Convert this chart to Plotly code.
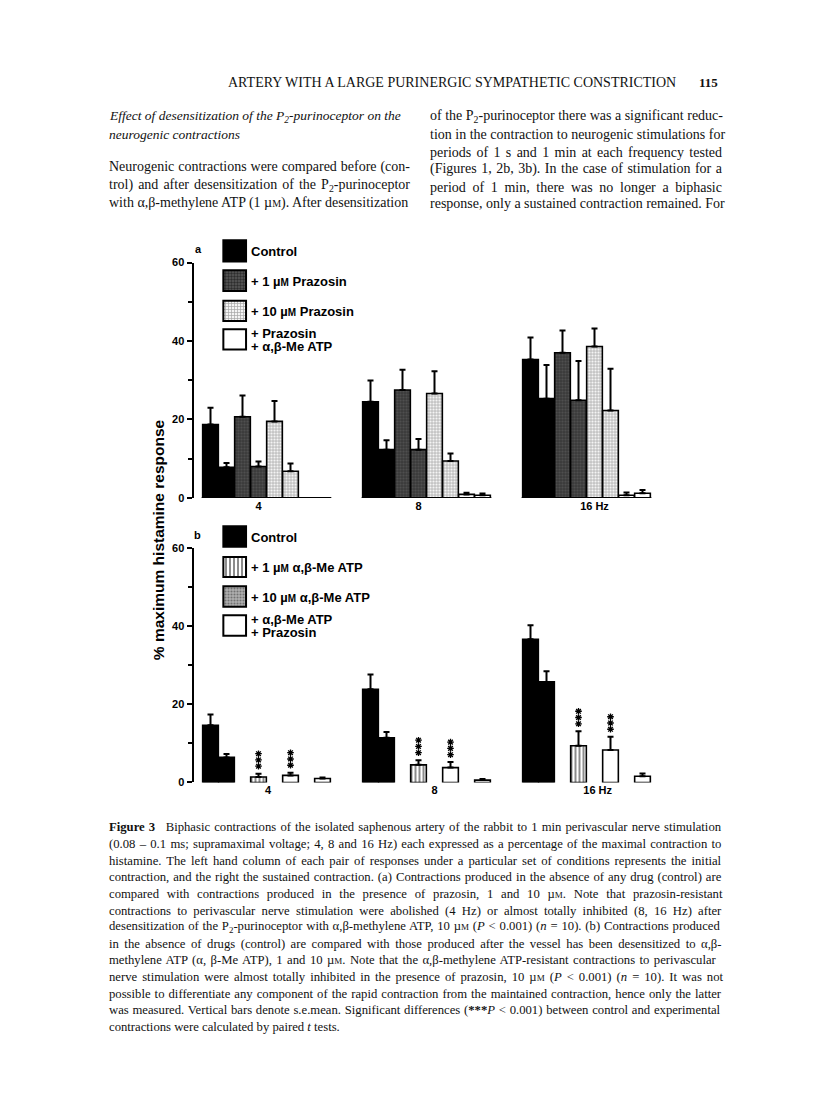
import re
import html
import plotly.graph_objects as go

# page (browser window) size and the default 8px body margin of the html page
PAGE_W, PAGE_H = 816, 1107
MARG = 8
W, H = PAGE_W - 2 * MARG, PAGE_H - 2 * MARG

# ---------------- DATA ----------------
freqs = ["4", "8", "16 Hz"]

# Panel a: % maximum histamine response (mean, s.e.mean); initial / sustained
a_control_init = [18.7, 24.5, 35.3]
a_control_init_sem = [4.3, 5.4, 5.6]
a_control_sust = [7.8, 12.3, 25.3]
a_control_sust_sem = [1.1, 2.4, 8.6]
a_pz1_init = [20.7, 27.5, 37.0]
a_pz1_init_sem = [5.4, 5.2, 5.7]
a_pz1_sust = [8.0, 12.3, 24.9]
a_pz1_sust_sem = [1.3, 2.7, 10.0]
a_pz10_init = [19.5, 26.6, 38.6]
a_pz10_init_sem = [5.2, 5.7, 4.6]
a_pz10_sust = [6.8, 9.4, 22.3]
a_pz10_sust_sem = [2.0, 1.9, 10.6]
a_pzatp_init = [0.0, 0.9, 0.7]
a_pzatp_init_sem = [0.0, 0.4, 0.7]
a_pzatp_sust = [0.0, 0.7, 1.2]
a_pzatp_sust_sem = [0.0, 0.4, 0.8]

# Panel b
b_control_init = [14.6, 23.8, 36.6]
b_control_init_sem = [2.8, 3.8, 3.6]
b_control_sust = [6.4, 11.4, 25.7]
b_control_sust_sem = [0.9, 1.5, 2.7]
b_atp1 = [1.4, 4.5, 9.4]
b_atp1_sem = [0.85, 1.2, 3.7]
b_atp10 = [1.8, 3.8, 8.3]
b_atp10_sem = [0.7, 1.4, 3.4]
b_atppz = [1.0, 0.6, 1.6]
b_atppz_sem = [0.25, 0.3, 0.7]

y_ticks = [0, 20, 40, 60]
y_minor = [10, 30, 50]

legend_a = ["Control", "+ 1 µM Prazosin", "+ 10 µM Prazosin", ["+ Prazosin", "+ α,β-Me ATP"]]
legend_b = ["Control", "+ 1 µM α,β-Me ATP", "+ 10 µM α,β-Me ATP", ["+ α,β-Me ATP", "+ Prazosin"]]
y_title = "% maximum histamine response"

# ---------------- STYLES ----------------
SANS = "Liberation Sans"
SERIF = "Liberation Serif"
INK = "#111111"
LINE = dict(color="black", width=1.6)

def st_solid(c):
    return dict(color=c, line=LINE)

STY = {
    "control": st_solid("#000000"),
    "pz1": dict(color="#444444", line=LINE,
                pattern=dict(shape=".", fgcolor="#000000", bgcolor="#5a5a5a", size=3, solidity=0.5)),
    "pz10": dict(color="#ffffff", line=LINE,
                 pattern=dict(shape="+", fgcolor="#555555", bgcolor="#f4f4f4", size=3, solidity=0.4)),
    "white": st_solid("#ffffff"),
    "atp1": dict(color="#ffffff", line=LINE,
                 pattern=dict(shape="|", fgcolor="#000000", bgcolor="#ffffff", size=4, solidity=0.45)),
    "atp10": dict(color="#9a9a9a", line=LINE,
                  pattern=dict(shape=".", fgcolor="#333333", bgcolor="#b0b0b0", size=3, solidity=0.4)),
}

GROUP_STRIDE = 10   # slots between groups
SLOT_PX = 16.0
X0_PX = 210.5       # page pixel of slot 0 centre
AX_LEFT, AX_RIGHT = 193.5, 672.0

def px2x(p):
    return (p - X0_PX) / SLOT_PX

def fx(px):  # page px -> paper fraction
    return (px - MARG) / W

def fy(py):
    return 1 - (py - MARG) / H

def yd(top_px, bot_px):
    return [fy(bot_px), fy(top_px)]

fig = go.Figure()

def add_bars(vals, sems, slot, style, xa, ya):
    xs = [g * GROUP_STRIDE + slot for g in range(len(vals))]
    fig.add_trace(go.Bar(
        x=xs, y=vals, width=0.98, marker=style,
        error_y=dict(type="data", symmetric=False, array=sems, arrayminus=[0] * len(vals),
                     color="black", thickness=2, width=3),
        xaxis=xa, yaxis=ya, showlegend=False, hoverinfo="skip"))

# panel a
series_a = [
    (a_control_init, a_control_init_sem, 0, "control"),
    (a_control_sust, a_control_sust_sem, 1, "control"),
    (a_pz1_init, a_pz1_init_sem, 2, "pz1"),
    (a_pz1_sust, a_pz1_sust_sem, 3, "pz1"),
    (a_pz10_init, a_pz10_init_sem, 4, "pz10"),
    (a_pz10_sust, a_pz10_sust_sem, 5, "pz10"),
    (a_pzatp_init, a_pzatp_init_sem, 6, "white"),
    (a_pzatp_sust, a_pzatp_sust_sem, 7, "white"),
]
for v, s, slot, k in series_a:
    add_bars(v, s, slot, STY[k], "x", "y")

# panel b
series_b = [
    (b_control_init, b_control_init_sem, 0, "control"),
    (b_control_sust, b_control_sust_sem, 1, "control"),
    (b_atp1, b_atp1_sem, 3, "atp1"),
    (b_atp10, b_atp10_sem, 5, "white"),
    (b_atppz, b_atppz_sem, 7, "white"),
]
for v, s, slot, k in series_b:
    add_bars(v, s, slot, STY[k], "x2", "y2")

# significance stars (***) stacked above the alpha,beta-Me ATP bars in panel b
star_offsets = [1.9, 3.5, 5.1]
for v, s, slot in [(b_atp1, b_atp1_sem, 3), (b_atp10, b_atp10_sem, 5)]:
    xs, ys = [], []
    for g in range(len(v)):
        for off in star_offsets:
            xs.append(g * GROUP_STRIDE + slot)
            ys.append(v[g] + s[g] + off)
    fig.add_trace(go.Scatter(x=xs, y=ys, mode="markers",
                             marker=dict(symbol="asterisk-open", size=5.5, color="black",
                                         line=dict(color="black", width=1.3)),
                             xaxis="x2", yaxis="y2", showlegend=False, hoverinfo="skip"))

# ---------- legend swatches (drawn as bars on a full-page pixel axis) ----------
LEG_X = 234.7
LEG_W = 22.7
leg_a_boxes = [(236.7, 258.3), (267.0, 288.0), (298.0, 318.5), (326.7, 347.3)]
leg_b_boxes = [(526.0, 546.7), (557.0, 577.3), (586.7, 607.3), (616.0, 636.7)]
leg_a_styles = ["control", "pz1", "pz10", "white"]
leg_b_styles = ["control", "atp1", "atp10", "white"]
for boxes, styles in [(leg_a_boxes, leg_a_styles), (leg_b_boxes, leg_b_styles)]:
    for (t, b), k in zip(boxes, styles):
        stl = dict(STY[k])
        stl["line"] = dict(color="black", width=2)
        fig.add_trace(go.Bar(x=[LEG_X], y=[t - b], base=[b], width=LEG_W, marker=stl,
                             xaxis="x3", yaxis="y3", showlegend=False, hoverinfo="skip"))

ann = []

def text(x, y, s, size=13, family=SANS, anchor="left", color="black", bold=False, angle=0):
    ann.append(dict(x=fx(x), y=fy(y), xref="paper", yref="paper", text=s, showarrow=False,
                    xanchor=anchor, yanchor="middle", textangle=angle,
                    font=dict(family=family, size=size, color=color,
                              weight="bold" if bold else "normal")))

def um(s, sz=10):
    return s.replace("µM", "µ<span style='font-size:%dpx'>M</span>" % sz)

LEG_TX = 248.5
for boxes, labels in [(leg_a_boxes, legend_a), (leg_b_boxes, legend_b)]:
    for (t, b), lab in zip(boxes, labels):
        if isinstance(lab, list):
            text(LEG_TX, t + 4, um(lab[0]), size=13, bold=True)
            text(LEG_TX, t + 17.5, um(lab[1]), size=13, bold=True)
        else:
            text(LEG_TX, (t + b) / 2 + 0.5, um(lab), size=13, bold=True)

# panel letters
text(198, 246, "a", size=11, bold=True, anchor="center")
text(197, 535, "b", size=11, bold=True, anchor="center")

# y title
text(158, 540, y_title, size=15.5, bold=True, angle=-90, anchor="center")

# baselines for panel a groups
shapes = []
for g in range(len(freqs)):
    x0 = g * GROUP_STRIDE - 0.55
    x1 = g * GROUP_STRIDE + 7.55
    shapes.append(dict(type="line", xref="x", yref="y", x0=x0, x1=x1, y0=0, y1=0,
                       line=dict(color="black", width=1.6), layer="below"))

TICKFONT = dict(family=SANS, size=11, color="black", weight="bold")

def yaxis(dom, anchor):
    return dict(domain=dom, range=[0, 60], anchor=anchor, showline=True, linecolor="black", linewidth=2,
                ticks="outside", ticklen=5, tickwidth=1.5, tickcolor="black",
                tickvals=y_ticks, ticktext=[str(t) for t in y_ticks],
                tickfont=TICKFONT,
                minor=dict(tickvals=y_minor, ticks="outside", ticklen=4, tickwidth=1.5, tickcolor="black"),
                showgrid=False, zeroline=False, fixedrange=True)

def xaxis(anchor, tickpos):
    return dict(domain=[fx(AX_LEFT), fx(AX_RIGHT)], range=[px2x(AX_LEFT), px2x(AX_RIGHT)],
                anchor=anchor, showline=False, showgrid=False, zeroline=False, ticks="",
                tickvals=tickpos, ticktext=freqs,
                tickfont=TICKFONT, fixedrange=True)

# tick label positions for frequency groups (in slot units)
tickpos_a = [3.0, 13.0, 24.0]
tickpos_b = [3.6, 14.0, 24.2]

fig.update_layout(
    width=W, height=H, margin=dict(l=0, r=0, t=0, b=0),
    paper_bgcolor="white", plot_bgcolor="rgba(0,0,0,0)",
    barmode="overlay", showlegend=False,
    xaxis=xaxis("y", tickpos_a),
    yaxis=yaxis(yd(259.3, 497.3), "x"),
    xaxis2=xaxis("y2", tickpos_b),
    yaxis2=yaxis(yd(547.7, 785.0), "x2"),
    xaxis3=dict(domain=[0, 1], range=[MARG, MARG + W], visible=False, anchor="y3", fixedrange=True),
    yaxis3=dict(domain=[0, 1], range=[MARG + H, MARG], visible=False, anchor="x3", fixedrange=True),
    shapes=shapes,
)

# ---------------- justified serif text (Times metrics, 1/1000 em) ----------------
TW = {' ': 250, '!': 333, '%': 833, '(': 333, ')': 333, '*': 500, '+': 564, ',': 250, '-': 333,
      '.': 250, '/': 278, ':': 278, ';': 278, '<': 564, '=': 564, '>': 564, '?': 444,
      'A': 722, 'B': 667, 'C': 667, 'D': 722, 'E': 611, 'F': 556, 'G': 722, 'H': 722, 'I': 333,
      'J': 389, 'K': 722, 'L': 611, 'M': 889, 'N': 722, 'O': 722, 'P': 556, 'Q': 722, 'R': 667,
      'S': 556, 'T': 611, 'U': 722, 'V': 722, 'W': 944, 'X': 722, 'Y': 722, 'Z': 611,
      'a': 444, 'b': 500, 'c': 444, 'd': 500, 'e': 444, 'f': 333, 'g': 500, 'h': 500, 'i': 278,
      'j': 278, 'k': 500, 'l': 278, 'm': 778, 'n': 500, 'o': 500, 'p': 500, 'q': 500, 'r': 333,
      's': 389, 't': 278, 'u': 500, 'v': 500, 'w': 722, 'x': 500, 'y': 500, 'z': 444,
      '–': 500, 'α': 520, 'β': 500, 'µ': 500, '\u2002': 500}
TB = {'F': 611, 'u': 556, 'r': 444, 'P': 611}

def est_width(markup, size):
    total, scale, bold = 0.0, [1.0], False
    for tok in re.split(r"(<[^>]+>)", markup):
        if tok.startswith("<"):
            t = tok.lower()
            if t.startswith("<sub"):
                scale.append(0.7)
            elif t.startswith("<span"):
                m = re.search(r"font-size:\s*([\d.]+)px", t)
                scale.append(float(m.group(1)) / size if m else scale[-1])
            elif t.startswith("</sub") or t.startswith("</span"):
                scale.pop()
            elif t == "<b>":
                bold = True
            elif t == "</b>":
                bold = False
            continue
        for ch in html.unescape(tok):
            w = TB.get(ch, TW.get(ch, 500)) if bold else TW.get(ch, 500)
            total += w / 1000.0 * size * scale[-1]
    return total

def n_spaces(markup):
    return sum(tok.count(" ") for tok in re.split(r"(<[^>]+>)", markup) if not tok.startswith("<"))

def justify(markup, size, target):
    gap = (target - est_width(markup, size)) / max(n_spaces(markup), 1)
    gap = max(min(gap, 6.0), 0.0)
    return "<span style='word-spacing:%.2fpx'>%s</span>" % (gap, markup)

# ---------------- PAGE TEXT ----------------
P2 = "P<sub>2</sub>"
text(226, 77, "ARTERY WITH A LARGE PURINERGIC SYMPATHETIC CONSTRICTION", size=14, family=SERIF, color=INK)
text(720, 77, "115", size=13, family=SERIF, anchor="right", color=INK, bold=True)

BS = 14
LCOL_X, LCOL_W = 107, 301
RCOL_X, RCOL_W = 428, 292
left_col = [
    (112, "<i>Effect of desensitization of the " + P2 + "-purinoceptor on the</i>", False, 13.5),
    (130, "<i>neurogenic contractions</i>", False, 13.5),
    (163, "Neurogenic contractions were compared before (con-", True, BS),
    (181, "trol) and after desensitization of the " + P2 + "-purinoceptor", True, BS),
    (199, "with α,β-methylene ATP (1 " + um("µM") + "). After desensitization", True, BS),
]
for y, s, just, sz in left_col:
    text(LCOL_X, y, justify(s, sz, LCOL_W) if just else s, size=sz, family=SERIF, color=INK)

right_col = [
    (112, "of the " + P2 + "-purinoceptor there was a significant reduc-"),
    (130, "tion in the contraction to neurogenic stimulations for"),
    (148, "periods of 1 s and 1 min at each frequency tested"),
    (165, "(Figures 1, 2b, 3b). In the case of stimulation for a"),
    (183, "period of 1 min, there was no longer a biphasic"),
    (200, "response, only a sustained contraction remained. For"),
]
for y, s in right_col:
    text(RCOL_X, y, justify(s, BS, RCOL_W), size=BS, family=SERIF, color=INK)

CS = 12.7
CAP_W = 613
uM = um("µM", 9)
caption = [
    "<b>Figure 3</b>\u2002 Biphasic contractions of the isolated saphenous artery of the rabbit to 1 min perivascular nerve stimulation",
    "(0.08 – 0.1 ms; supramaximal voltage; 4, 8 and 16 Hz) each expressed as a percentage of the maximal contraction to",
    "histamine. The left hand column of each pair of responses under a particular set of conditions represents the initial",
    "contraction, and the right the sustained contraction. (a) Contractions produced in the absence of any drug (control) are",
    "compared with contractions produced in the presence of prazosin, 1 and 10 " + uM + ". Note that prazosin-resistant",
    "contractions to perivascular nerve stimulation were abolished (4 Hz) or almost totally inhibited (8, 16 Hz) after",
    "desensitization of the " + P2 + "-purinoceptor with α,β-methylene ATP, 10 " + uM + " (<i>P</i> &lt; 0.001) (<i>n</i> = 10). (b) Contractions produced",
    "in the absence of drugs (control) are compared with those produced after the vessel has been desensitized to α,β-",
    "methylene ATP (α, β-Me ATP), 1 and 10 " + uM + ". Note that the α,β-methylene ATP-resistant contractions to perivascular",
    "nerve stimulation were almost totally inhibited in the presence of prazosin, 10 " + uM + " (<i>P</i> &lt; 0.001) (<i>n</i> = 10). It was not",
    "possible to differentiate any component of the rapid contraction from the maintained contraction, hence only the latter",
    "was measured. Vertical bars denote s.e.mean. Significant differences (<b>***</b><i>P</i> &lt; 0.001) between control and experimental",
    "contractions were calculated by paired <i>t</i> tests.",
]
for i, s in enumerate(caption):
    last = i == len(caption) - 1
    text(107, 830.5 + 16.8 * i, s if last else justify(s, CS, CAP_W), size=CS, family=SERIF, color=INK)

fig.update_layout(annotations=ann)
fig.write_html("out.html")
